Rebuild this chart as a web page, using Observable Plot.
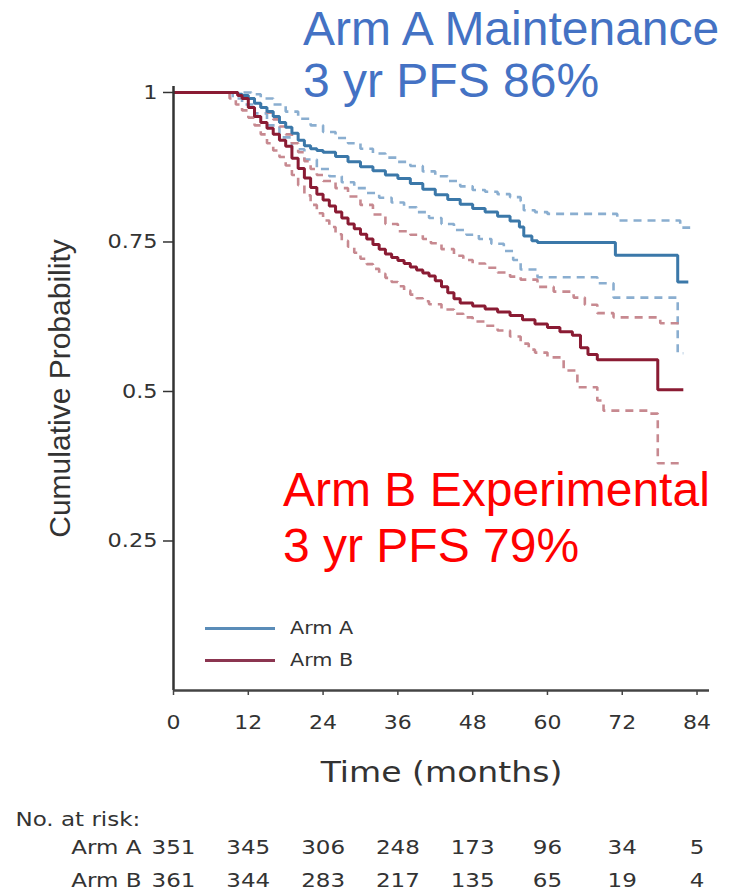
<!DOCTYPE html>
<html><head><meta charset="utf-8">
<script src="https://cdn.jsdelivr.net/npm/d3@7"></script>
<script src="https://cdn.jsdelivr.net/npm/@observablehq/plot@0.6"></script>
<style>
body{margin:0;background:#fff;}
#wrap{position:relative;width:735px;height:893px;overflow:hidden;background:#fff;}
#wrap svg{display:block;}
.ann{position:absolute;font-family:"Liberation Sans",Arial,sans-serif;font-size:48px;white-space:nowrap;}
.leg{position:absolute;font-family:"DejaVu Sans",sans-serif;font-size:18px;color:#333;transform:scaleX(1.15);transform-origin:left center;line-height:20px;}
.legline{position:absolute;height:3px;width:70px;}
</style></head><body><div id="wrap"></div><script>
// ---- data (months, cumulative probability) ----
const xTicks = [0, 12, 24, 36, 48, 60, 72, 84];
const yTicks = [0.25, 0.5, 0.75, 1];

const armA = [[0,1],[10.3,0.997],[11,0.995],[12,0.99],[13,0.982],[14,0.975],[15,0.968],[16,0.96],[17,0.95],[18,0.942],[19,0.932],[20,0.92],[21,0.911],[22,0.906],[23,0.903],[24,0.9],[26,0.893],[28,0.884],[30,0.876],[32,0.869],[34,0.862],[36,0.856],[38,0.848],[40,0.838],[42,0.829],[44,0.821],[46,0.813],[48,0.806],[50,0.8],[52,0.793],[54,0.785],[55.5,0.775],[56.2,0.76],[57.5,0.752],[58.4,0.749],[70.9,0.728],[80.9,0.683],[82.6,0.683]];
const armAUpper = [[0,1],[12.5,0.997],[14,0.99],[16,0.98],[18,0.968],[20,0.956],[22,0.945],[24,0.934],[26,0.924],[28,0.915],[30,0.906],[32,0.898],[34,0.891],[36,0.884],[38,0.877],[40,0.868],[42,0.86],[44,0.852],[46,0.843],[48,0.837],[50,0.834],[52,0.83],[54,0.825],[55.7,0.818],[56.2,0.803],[58,0.8],[60,0.797],[71.2,0.786],[81.3,0.774],[82.9,0.774]];
const armALower = [[0,1],[9.5,0.99],[11,0.98],[13,0.965],[15,0.945],[17,0.925],[19,0.905],[21,0.888],[23,0.872],[25,0.86],[27,0.85],[29,0.84],[31,0.832],[33,0.824],[35,0.816],[37,0.808],[39,0.8],[41,0.79],[43,0.78],[45,0.77],[47,0.762],[49,0.755],[51,0.747],[53,0.735],[54.5,0.72],[55.7,0.704],[58.4,0.691],[68,0.681],[70.6,0.657],[80.9,0.564],[81.8,0.564]];

const armB = [[0,1],[10.3,0.995],[11,0.99],[12,0.975],[13,0.96],[14,0.95],[15,0.94],[16,0.93],[17,0.92],[18,0.91],[19,0.89],[20,0.873],[21,0.857],[22,0.841],[23,0.83],[24,0.82],[25,0.81],[26,0.8],[27,0.79],[28,0.78],[29,0.772],[30,0.763],[31,0.755],[32,0.746],[33,0.738],[34,0.73],[35,0.724],[36,0.719],[37,0.714],[38,0.708],[39,0.703],[40,0.698],[41,0.693],[42,0.685],[43,0.675],[44,0.665],[45,0.655],[46,0.648],[48,0.643],[50,0.638],[52,0.633],[54,0.627],[56,0.62],[58,0.613],[60,0.607],[62,0.6],[64,0.594],[65.3,0.573],[66.5,0.562],[68,0.553],[77.7,0.503],[81.8,0.503]];
const armBUpper = [[0,1],[11,0.995],[12,0.99],[13,0.983],[14,0.975],[15,0.966],[16,0.955],[17,0.943],[18,0.93],[19,0.915],[20,0.9],[21,0.885],[22,0.872],[23,0.862],[24,0.852],[26,0.84],[28,0.826],[30,0.812],[32,0.796],[34,0.78],[36,0.768],[38,0.762],[40,0.755],[41.3,0.748],[43,0.738],[45,0.727],[46.5,0.72],[48,0.714],[50,0.707],[52,0.699],[54,0.692],[55.7,0.687],[58.4,0.675],[61,0.667],[64.2,0.657],[66,0.645],[68,0.631],[70.6,0.624],[78.1,0.614],[81.3,0.614]];
const armBLower = [[0,1],[9,0.99],[10,0.98],[11,0.97],[12,0.958],[13,0.945],[14,0.93],[15,0.915],[16,0.903],[17,0.892],[18,0.878],[19,0.862],[20,0.845],[21,0.828],[22,0.812],[23,0.798],[24,0.786],[25,0.775],[26,0.763],[27,0.752],[28,0.742],[29,0.732],[30,0.722],[31,0.713],[32,0.705],[33,0.697],[34,0.69],[35,0.683],[36,0.676],[37,0.669],[38,0.662],[39,0.656],[40,0.651],[41,0.646],[43,0.637],[45,0.63],[46.5,0.624],[48,0.617],[50,0.61],[52,0.602],[54,0.592],[55.7,0.58],[57,0.57],[58,0.565],[60,0.557],[62.6,0.535],[64.8,0.507],[68,0.485],[69,0.468],[76.5,0.463],[77.7,0.38],[81.8,0.38]];

const arms = ["Arm A", "Arm B"];
const riskTimes = [0, 12, 24, 36, 48, 60, 72, 84];
const riskA = [351, 345, 306, 248, 173, 96, 34, 5];
const riskB = [361, 344, 283, 217, 135, 65, 19, 4];

// ---- styles ----
const blue = "#3b78a9", red = "#8a1b33";
const blueCI = "#8aaed0", redCI = "#c78990";

const toRows = (pts, key) => pts.map(([t, s]) => ({key, t, s}));
const ciA = [...toRows(armAUpper, "AU"), ...toRows(armALower, "AL")];
const ciB = [...toRows(armBUpper, "BU"), ...toRows(armBLower, "BL")];

const lineOpts = {x: "t", y: "s", z: "key", curve: "step-after", strokeLinecap: "butt", strokeLinejoin: "miter"};

const main = Plot.plot({
  width: 735, height: 790,
  marginLeft: 173, marginRight: 26, marginTop: 86, marginBottom: 100,
  style: {fontFamily: "DejaVu Sans", color: "#333", background: "transparent"},
  x: {domain: [0, 86], label: null},
  y: {domain: [0, 1.01], label: null},
  marks: [
    Plot.line(ciA, {...lineOpts, stroke: blueCI, strokeWidth: 2.6, strokeDasharray: "8,6"}),
    Plot.line(ciB, {...lineOpts, stroke: redCI, strokeWidth: 2.6, strokeDasharray: "8,6"}),
    Plot.line(toRows(armA, "A"), {...lineOpts, stroke: blue, strokeWidth: 3}),
    Plot.line(toRows(armB, "B"), {...lineOpts, stroke: red, strokeWidth: 3}),
    Plot.ruleX([0], {y1: 0, y2: 1.01, stroke: "#333", strokeWidth: 2.5}),
    Plot.ruleY([0], {x1: 0, x2: 86, stroke: "#444", strokeWidth: 2.5}),
    Plot.axisY({ticks: yTicks, tickSize: 10, tickPadding: 6, fontSize: 20, tickFormat: d => String(d), stroke: "#333", strokeWidth: 1.5, label: null}),
    Plot.axisX({ticks: xTicks, tickSize: 5, tickPadding: 19, fontSize: 20, tickFormat: d => String(d), stroke: "#444", strokeWidth: 1.5, label: null}),
    Plot.text(["Time (months)"], {frameAnchor: "bottom", lineAnchor: "middle", dy: 83, fontSize: 28, fill: "#333"}),
    Plot.text(["Cumulative Probability"], {frameAnchor: "left", textAnchor: "middle", rotate: -90, dx: -113, fontSize: 30, fontFamily: "Liberation Sans", fill: "#333"})
  ]
});

const riskRows = [
  ...riskTimes.map((t, i) => ({arm: arms[0], t, n: riskA[i]})),
  ...riskTimes.map((t, i) => ({arm: arms[1], t, n: riskB[i]}))
];

const table = Plot.plot({
  width: 735, height: 103,
  marginLeft: 173, marginRight: 26, marginTop: 0, marginBottom: 0,
  style: {fontFamily: "DejaVu Sans", color: "#333", background: "transparent"},
  x: {domain: [0, 86], axis: null},
  y: {type: "point", domain: arms, range: [57, 90], padding: 0, axis: null},
  marks: [
    Plot.text(riskRows, {x: "t", y: "arm", text: d => String(d.n), fontSize: 20, fill: "#333"}),
    Plot.text(arms, {x: d => 0, y: d => d, text: d => d, dx: -32, textAnchor: "end", fontSize: 20, fill: "#333"}),
    Plot.text(["No. at risk:"], {frameAnchor: "top-left", dx: -158, dy: 29, lineAnchor: "middle", textAnchor: "start", fontSize: 20, fill: "#333"})
  ]
});

const wrap = document.getElementById("wrap");
wrap.appendChild(main);
wrap.appendChild(table);

function stretch(root, sel, k) {
  root.querySelectorAll(sel).forEach(t => {
    const w = t.getComputedTextLength();
    if (w > 0) { t.setAttribute("textLength", (w * k).toFixed(1)); t.setAttribute("lengthAdjust", "spacingAndGlyphs"); }
  });
}
stretch(main, 'g[aria-label="y-axis tick label"] text', 1.12);
stretch(main, 'g[aria-label="x-axis tick label"] text', 1.1);
main.querySelectorAll('g[aria-label="text"] text').forEach(t => {
  if (t.textContent === "Time (months)") { const w = t.getComputedTextLength(); t.setAttribute("textLength", (w*1.18).toFixed(1)); t.setAttribute("lengthAdjust","spacingAndGlyphs"); }
});
stretch(table, 'text', 1.15);

// annotations and legend
function addDiv(cls, text, style) {
  const d = document.createElement("div");
  d.className = cls; d.innerHTML = text; Object.assign(d.style, style); wrap.appendChild(d); return d;
}
addDiv("ann", "Arm A Maintenance<br>3 yr PFS 86%", {left: "303px", top: "3px", lineHeight: "52px", color: "#4472C4"});
addDiv("ann", "Arm B Experimental<br>3 yr PFS 79%", {left: "283px", top: "462px", lineHeight: "56px", color: "#FF0000"});
addDiv("legline", "", {left: "205px", top: "627px", background: "#5a8cb8"});
addDiv("legline", "", {left: "205px", top: "659px", background: "#8b3550"});
addDiv("leg", "Arm A", {left: "290px", top: "618px"});
addDiv("leg", "Arm B", {left: "290px", top: "650px"});
</script></body></html>
